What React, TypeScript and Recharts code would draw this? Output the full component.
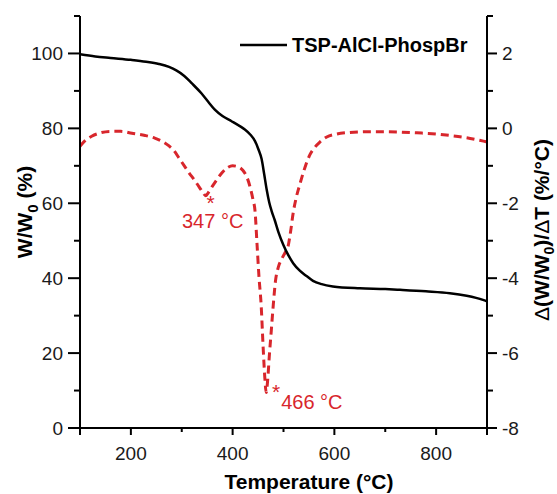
import { ComposedChart, Line, XAxis, YAxis, ReferenceDot, Legend } from "recharts";

const FONT = "'Liberation Sans', Arial, sans-serif";
const RED = "#d8262c";

// TGA curve: temperature (°C) vs remaining weight (%)
const tgaTemp = [100, 130, 160, 200, 230, 255, 275, 290, 305, 320, 339, 352, 365, 380, 398, 414, 424, 435, 444, 451, 457, 462, 467, 472, 477, 483, 490, 500, 510, 519, 532, 546, 558, 575, 597, 650, 700, 729, 780, 827, 860, 892, 900];
const tgaWeight = [99.8, 99.2, 98.8, 98.3, 97.8, 97.2, 96.4, 95.4, 94.0, 92.0, 89.3, 87.1, 85.0, 83.3, 81.9, 80.6, 79.7, 78.3, 76.6, 74.3, 71.8, 67.8, 63.6, 60.2, 57.8, 55.4, 52.3, 48.8, 46.0, 44.0, 42.0, 40.5, 39.3, 38.4, 37.8, 37.3, 37.1, 36.9, 36.5, 36.0, 35.3, 34.2, 33.8];

// DTG curve: temperature (°C) vs d(W/W0)/dT (%/°C)
const dtgTemp = [100, 110, 123, 140, 160, 180, 202, 228, 247, 262, 275, 285, 295, 305, 315, 325, 335, 342, 347, 352, 360, 370, 380, 390, 400, 410, 420, 428, 434, 440, 444, 448, 452, 456, 460, 463, 466, 469, 472, 476, 480, 484, 490, 496, 503, 509, 514, 519, 525, 532, 542, 552, 562, 572, 585, 605, 630, 665, 700, 730, 762, 800, 827, 860, 893, 900];
const dtgRate = [-0.48, -0.33, -0.21, -0.12, -0.08, -0.08, -0.13, -0.19, -0.26, -0.35, -0.47, -0.6, -0.8, -1.0, -1.2, -1.38, -1.58, -1.72, -1.8, -1.72, -1.55, -1.35, -1.17, -1.05, -1.0, -1.02, -1.12, -1.3, -1.55, -1.9, -2.2, -3.1, -4.0, -4.7, -5.85, -6.6, -7.05, -6.7, -6.1, -5.4, -4.7, -4.1, -3.7, -3.5, -3.32, -3.15, -2.75, -2.26, -1.85, -1.5, -1.05, -0.7, -0.5, -0.36, -0.23, -0.15, -0.11, -0.09, -0.09, -0.1, -0.12, -0.15, -0.19, -0.25, -0.34, -0.36];

const xTicks = [100, 200, 300, 400, 500, 600, 700, 800, 900];
const xLabels = [200, 400, 600, 800];
const leftTicks = [0, 10, 20, 30, 40, 50, 60, 70, 80, 90, 100, 110];
const rightTicks = [-8, -7, -6, -5, -4, -3, -2, -1, 0, 1, 2, 3];

const peaks = [
  { t: 347, rate: -1.8, label: "347 °C" },
  { t: 466, rate: -7.05, label: "466 °C" },
];

const seriesName = "TSP-AlCl-PhospBr";

const tgaData = tgaTemp.map((t, i) => ({ t, w: tgaWeight[i] }));
const dtgData = dtgTemp.map((t, i) => ({ t, d: dtgRate[i] }));

const LeftTick = (props: any) => {
  const { x, y, payload } = props;
  const major = payload.value % 20 === 0 && payload.value <= 100;
  return (
    <g>
      <line x1={x - (major ? 12 : 6)} x2={x} y1={y} y2={y} stroke="#000" strokeWidth={2} />
      {major && (
        <text x={x - 17} y={y} textAnchor="end" dominantBaseline="central" fontSize={19} fontFamily={FONT} fill="#1a1a1a">
          {payload.value}
        </text>
      )}
    </g>
  );
};

const RightTick = (props: any) => {
  const { x, y, payload } = props;
  const major = payload.value % 2 === 0 && payload.value <= 2;
  return (
    <g>
      <line x1={x} x2={x + (major ? 10 : 6)} y1={y} y2={y} stroke="#000" strokeWidth={2} />
      {major && (
        <text x={x + 15} y={y} textAnchor="start" dominantBaseline="central" fontSize={19} fontFamily={FONT} fill="#1a1a1a">
          {payload.value}
        </text>
      )}
    </g>
  );
};

const BottomTick = (props: any) => {
  const { x, y, payload } = props;
  const labelled = xLabels.includes(payload.value);
  const major = labelled || payload.value === 100 || payload.value === 900;
  return (
    <g>
      <line x1={x} x2={x} y1={y} y2={y + (major ? 7 : 4)} stroke="#000" strokeWidth={2} />
      {labelled && (
        <text x={x} y={y + 32} textAnchor="middle" fontSize={19} fontFamily={FONT} fill="#1a1a1a">
          {payload.value}
        </text>
      )}
    </g>
  );
};

const XTitle = () => (
  <text x={309} y={489} textAnchor="middle" fontSize={21} fontWeight={700} fontFamily={FONT} fill="#000">
    Temperature (°C)
  </text>
);

const LeftTitle = () => (
  <text transform="translate(32,212) rotate(-90)" textAnchor="middle" fontSize={21} fontWeight={700} fontFamily={FONT} fill="#000">
    W/W<tspan dy={6} fontSize={15}>0</tspan>
    <tspan dy={-6}> (%)</tspan>
  </text>
);

const RightTitle = () => (
  <text transform="translate(549,230) rotate(-90)" textAnchor="middle" fontSize={21} fontWeight={700} fontFamily={FONT} fill="#000">
    <tspan fontWeight={400}>Δ</tspan>(W/W<tspan dy={5} fontSize={14}>0</tspan>
    <tspan dy={-5}>)/</tspan>
    <tspan fontWeight={400}>Δ</tspan>T (%/°C)
  </text>
);

const PeakMark = (label: string, dx: number, dy: number, tx: number, ty: number, anchor: "start" | "middle") => (props: any) => {
  const { cx, cy } = props;
  return (
    <g>
      <text x={cx + dx} y={cy + dy} textAnchor="middle" fontSize={21} fontFamily={FONT} fill={RED}>
        *
      </text>
      <text x={cx + tx} y={cy + ty} textAnchor={anchor} fontSize={20} fontFamily={FONT} fill={RED}>
        {label}
      </text>
    </g>
  );
};

const LegendBox = () => (
  <div style={{ display: "flex", alignItems: "center", fontFamily: FONT }}>
    <svg width={52} height={10}>
      <line x1={0} x2={47} y1={5} y2={5} stroke="#000" strokeWidth={2.5} />
    </svg>
    <span style={{ fontWeight: 700, fontSize: 20, color: "#000", lineHeight: "24px" }}>{seriesName}</span>
  </div>
);

export default function App() {
  return (
    <div style={{ position: "absolute", left: 0, top: 0, background: "#fff" }}>
      <ComposedChart width={557} height={494} margin={{ top: 16, right: 0, bottom: 0, left: 0 }}>
        <XAxis
          dataKey="t"
          type="number"
          domain={[100, 900]}
          ticks={xTicks}
          interval={0}
          allowDataOverflow
          height={66}
          tickSize={0}
          tickMargin={0}
          tickLine={false}
          axisLine={{ stroke: "#000", strokeWidth: 2 }}
          tick={<BottomTick />}
          label={<XTitle />}
        />
        <YAxis
          yAxisId="left"
          orientation="left"
          type="number"
          domain={[0, 110]}
          ticks={leftTicks}
          interval={0}
          width={80}
          tickSize={0}
          tickMargin={0}
          tickLine={false}
          axisLine={{ stroke: "#000", strokeWidth: 2 }}
          tick={<LeftTick />}
          label={<LeftTitle />}
        />
        <YAxis
          yAxisId="right"
          orientation="right"
          type="number"
          domain={[-8, 3]}
          ticks={rightTicks}
          interval={0}
          width={70}
          tickSize={0}
          tickMargin={0}
          tickLine={false}
          axisLine={{ stroke: "#000", strokeWidth: 2 }}
          tick={<RightTick />}
          label={<RightTitle />}
        />
        <Line
          yAxisId="right"
          data={dtgData}
          dataKey="d"
          type="monotone"
          stroke={RED}
          strokeWidth={3}
          strokeDasharray="8 5"
          dot={false}
          isAnimationActive={false}
        />
        <Line
          yAxisId="left"
          data={tgaData}
          dataKey="w"
          name={seriesName}
          type="monotone"
          stroke="#000"
          strokeWidth={2.5}
          dot={false}
          isAnimationActive={false}
        />
        <ReferenceDot
          yAxisId="right"
          x={peaks[0].t}
          y={peaks[0].rate}
          r={1}
          shape={PeakMark(peaks[0].label, 5, 14, 7, 32, "middle")}
        />
        <ReferenceDot
          yAxisId="right"
          x={peaks[1].t}
          y={peaks[1].rate}
          r={1}
          shape={PeakMark(peaks[1].label, 10, 7, 15, 17, "start")}
        />
        <Legend
          layout="horizontal"
          verticalAlign="middle"
          align="center"
          content={<LegendBox />}
          wrapperStyle={{ position: "absolute", top: 33, left: 240, width: "auto" }}
        />
      </ComposedChart>
    </div>
  );
}
